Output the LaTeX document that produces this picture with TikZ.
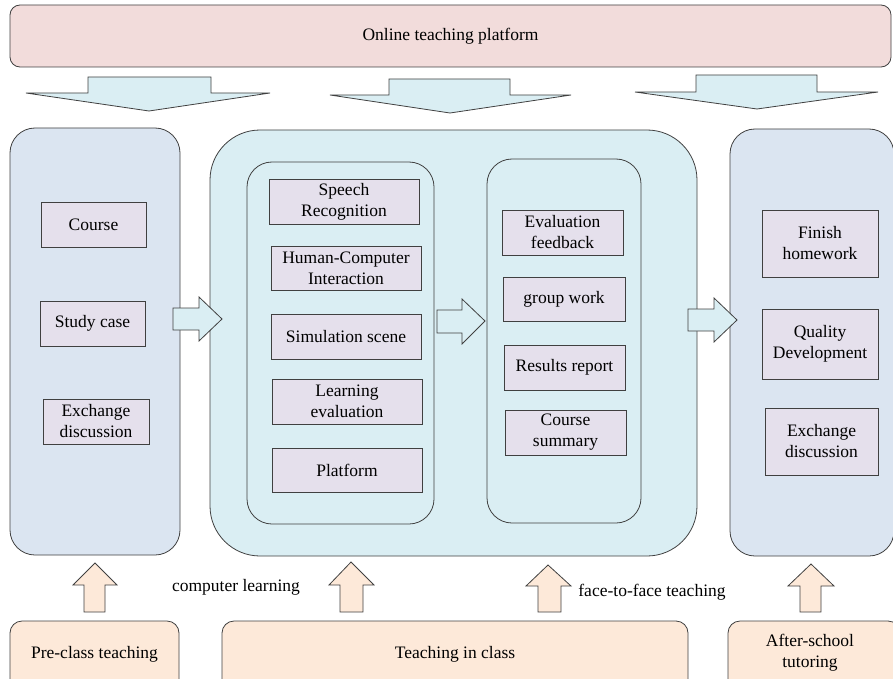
\documentclass[tikz,border=0pt]{standalone}
\usepackage{fontspec}
\setmainfont{Liberation Serif}
\definecolor{topfill}{HTML}{F2DCDB}
\definecolor{arrfill}{HTML}{DAEEF3}
\definecolor{sidefill}{HTML}{DBE5F1}
\definecolor{midfill}{HTML}{DAEEF3}
\definecolor{boxfill}{HTML}{E5E0EC}
\definecolor{botfill}{HTML}{FDE9D9}
\definecolor{edge}{HTML}{404040}
\begin{document}
\begin{tikzpicture}[x=1pt,y=-1pt,
  every node/.style={font=\fontsize{17.5}{21}\selectfont, align=center},
  line/.style={draw=edge, line width=0.8pt},
  panelbox/.style={line, inner sep=0pt},
  itembox/.style={line, fill=boxfill, inner sep=0pt},
  blockarrow/.style={line, fill=arrfill, line join=miter},
  uparrow/.style={line, fill=botfill, line join=miter}]
\useasboundingbox (0,0) rectangle (893,679);
\clip (0,0) rectangle (893,679);

% top platform
\node[panelbox, fill=topfill, rounded corners=10pt, minimum width=881pt, minimum height=62pt] (top) at (450.5,36) {Online teaching platform};

% down arrows
\draw[blockarrow] (88,77) -- (211,77) -- (211,93) -- (270,93) -- (149,111) -- (26,93) -- (88,93) -- cycle;
\draw[blockarrow] (389,79) -- (510,79) -- (510,95) -- (571,95) -- (450,113) -- (330,95) -- (389,95) -- cycle;
\draw[blockarrow] (696,75) -- (817,75) -- (817,92) -- (878,92) -- (757,109) -- (635,92) -- (696,92) -- cycle;

% panels
\node[panelbox, fill=sidefill, rounded corners=25pt, minimum width=170pt, minimum height=427pt] (left) at (95,341.5) {};
\node[panelbox, fill=midfill, rounded corners=50pt, minimum width=487pt, minimum height=426pt] (mid) at (453.5,343) {};
\node[panelbox, fill=midfill, rounded corners=25pt, minimum width=187pt, minimum height=362pt] (in1) at (340.5,343) {};
\node[panelbox, fill=midfill, rounded corners=25pt, minimum width=154pt, minimum height=364pt] (in2) at (564,341) {};
\node[panelbox, fill=sidefill, rounded corners=25pt, minimum width=164pt, minimum height=427pt] (right) at (812,342.5) {};

% left items
\node[itembox, minimum width=105pt, minimum height=45pt] (course) at (93.5,224.5) {Course};
\node[itembox, minimum width=105pt, minimum height=45pt] (study) at (92.5,323.5) {Study case};
\node[itembox, minimum width=106pt, minimum height=45pt] (exch1) at (96,421.5) {Exchange\\discussion};

% inner panel 1 items
\node[itembox, minimum width=150pt, minimum height=45pt] (speech) at (344,201.5) {Speech\\Recognition};
\node[itembox, minimum width=150pt, minimum height=44pt] (hci) at (346,268) {Human-Computer\\Interaction};
\node[itembox, minimum width=150pt, minimum height=45pt] (sim) at (346,336.5) {Simulation scene};
\node[itembox, minimum width=150pt, minimum height=45pt] (learn) at (347,401.5) {Learning\\evaluation};
\node[itembox, minimum width=150pt, minimum height=44pt] (plat) at (347,470) {Platform};

% inner panel 2 items
\node[itembox, minimum width=121pt, minimum height=45pt] (evalf) at (562.5,232.5) {Evaluation\\feedback};
\node[itembox, minimum width=122pt, minimum height=44pt] (group) at (564,299) {group work};
\node[itembox, minimum width=121pt, minimum height=45pt] (results) at (564.5,367.5) {Results report};
\node[itembox, minimum width=121pt, minimum height=45pt] (summary) at (565.5,432.5) {Course\\summary};

% right items
\node[itembox, minimum width=116pt, minimum height=67pt] (finish) at (820,243.5) {Finish\\homework};
\node[itembox, minimum width=116pt, minimum height=70pt] (quality) at (820,344) {Quality\\Development};
\node[itembox, minimum width=113pt, minimum height=67pt] (exch2) at (821.5,441.5) {Exchange\\discussion};

% horizontal block arrows
\draw[blockarrow] (173,308) -- (199,308) -- (199,297) -- (222,319) -- (199,341) -- (199,330) -- (173,330) -- cycle;
\draw[blockarrow] (437,310) -- (462,310) -- (462,299) -- (485,321) -- (462,344) -- (462,333) -- (437,333) -- cycle;
\draw[blockarrow] (688,309) -- (714,309) -- (714,298) -- (737,320) -- (714,342) -- (714,331) -- (688,331) -- cycle;

% up arrows
\draw[uparrow] (84,612) -- (84,585) -- (73,585) -- (95,563) -- (117,585) -- (105,585) -- (105,612) -- cycle;
\draw[uparrow] (340,612) -- (340,585) -- (329,585) -- (351,562) -- (374,585) -- (363,585) -- (363,612) -- cycle;
\draw[uparrow] (538,612) -- (538,586) -- (526,586) -- (548,565) -- (571,586) -- (561,586) -- (561,612) -- cycle;
\draw[uparrow] (800,612) -- (800,586) -- (788,586) -- (811,564) -- (834,586) -- (821,586) -- (821,612) -- cycle;

% labels
\node (cl) at (236,587) {computer learning};
\node (ff) at (652,592) {face-to-face teaching};

% bottom boxes
\draw[line, fill=botfill, rounded corners=12pt] (10,695) -- (10,621) -- (179,621) -- (179,695);
\node (pre) at (94.5,654) {Pre-class teaching};
\draw[line, fill=botfill, rounded corners=12pt] (222,695) -- (222,621) -- (688,621) -- (688,695);
\node (tic) at (455,654) {Teaching in class};
\draw[line, fill=botfill, rounded corners=12pt] (728,695) -- (728,621) -- (900,621) -- (900,695);
\node (after) at (810,653) {After-school\\tutoring};
\end{tikzpicture}
\end{document}
